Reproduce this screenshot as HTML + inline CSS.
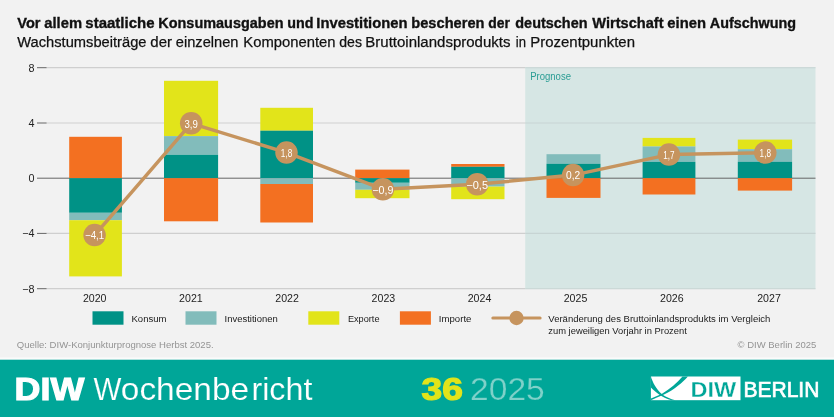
<!DOCTYPE html>
<html lang="de"><head><meta charset="utf-8"><title>DIW Wochenbericht 36 2025</title>
<style>
html,body{margin:0;padding:0;background:#f2f2f2;}
body{width:834px;height:417px;overflow:hidden;font-family:"Liberation Sans",sans-serif;}
svg{display:block;}
text{font-family:"Liberation Sans",sans-serif;}
</style></head><body>
<svg width="834" height="417" viewBox="0 0 834 417">
<rect width="834" height="417" fill="#f2f2f2"/>

<text y="27.7" font-size="15.2" font-weight="bold" fill="#111" stroke="#111" stroke-width="0.35"><tspan x="17.3" textLength="23.2" lengthAdjust="spacingAndGlyphs">Vor</tspan> <tspan x="44.3" textLength="37.7" lengthAdjust="spacingAndGlyphs">allem</tspan> <tspan x="85.3" textLength="69.2" lengthAdjust="spacingAndGlyphs">staatliche</tspan> <tspan x="158.3" textLength="125.2" lengthAdjust="spacingAndGlyphs">Konsumausgaben</tspan> <tspan x="287.3" textLength="26.2" lengthAdjust="spacingAndGlyphs">und</tspan> <tspan x="316.3" textLength="91.2" lengthAdjust="spacingAndGlyphs">Investitionen</tspan> <tspan x="411.3" textLength="73.2" lengthAdjust="spacingAndGlyphs">bescheren</tspan> <tspan x="488.3" textLength="21.7" lengthAdjust="spacingAndGlyphs">der</tspan> <tspan x="515.3" textLength="72.2" lengthAdjust="spacingAndGlyphs">deutschen</tspan> <tspan x="592.3" textLength="71.2" lengthAdjust="spacingAndGlyphs">Wirtschaft</tspan> <tspan x="667.3" textLength="38.7" lengthAdjust="spacingAndGlyphs">einen</tspan> <tspan x="709.8" textLength="86.2" lengthAdjust="spacingAndGlyphs">Aufschwung</tspan></text>
<text y="47.1" font-size="15.2" fill="#111" stroke="#111" stroke-width="0.25"><tspan x="17.3" textLength="129.2" lengthAdjust="spacingAndGlyphs">Wachstumsbeiträge</tspan> <tspan x="150.3" textLength="21.7" lengthAdjust="spacingAndGlyphs">der</tspan> <tspan x="175.8" textLength="62.7" lengthAdjust="spacingAndGlyphs">einzelnen</tspan> <tspan x="243.3" textLength="92.2" lengthAdjust="spacingAndGlyphs">Komponenten</tspan> <tspan x="339.3" textLength="22.7" lengthAdjust="spacingAndGlyphs">des</tspan> <tspan x="365.3" textLength="145.2" lengthAdjust="spacingAndGlyphs">Bruttoinlandsprodukts</tspan> <tspan x="515.8" textLength="10.2" lengthAdjust="spacingAndGlyphs">in</tspan> <tspan x="530.3" textLength="104.7" lengthAdjust="spacingAndGlyphs">Prozentpunkten</tspan></text>
<rect x="525.2" y="67.1" width="290.3" height="221.9" fill="#D6E6E4"/>
<line x1="46.6" x2="525.2" y1="67.7" y2="67.7" stroke="#cfcfcf" stroke-width="1.2"/>
<line x1="525.2" x2="815.5" y1="67.7" y2="67.7" stroke="#c7d4d3" stroke-width="1.1"/>
<line x1="37" x2="46.6" y1="67.7" y2="67.7" stroke="#666" stroke-width="1"/>
<line x1="46.6" x2="525.2" y1="123.0" y2="123.0" stroke="#cfcfcf" stroke-width="1.2"/>
<line x1="525.2" x2="815.5" y1="123.0" y2="123.0" stroke="#c7d4d3" stroke-width="1.1"/>
<line x1="37" x2="46.6" y1="123.0" y2="123.0" stroke="#666" stroke-width="1"/>
<line x1="46.6" x2="525.2" y1="233.4" y2="233.4" stroke="#cfcfcf" stroke-width="1.2"/>
<line x1="525.2" x2="815.5" y1="233.4" y2="233.4" stroke="#c7d4d3" stroke-width="1.1"/>
<line x1="37" x2="46.6" y1="233.4" y2="233.4" stroke="#666" stroke-width="1"/>
<line x1="46.6" x2="525.2" y1="288.7" y2="288.7" stroke="#cfcfcf" stroke-width="1.2"/>
<line x1="525.2" x2="815.5" y1="288.7" y2="288.7" stroke="#c7d4d3" stroke-width="1.1"/>
<line x1="37" x2="46.6" y1="288.7" y2="288.7" stroke="#666" stroke-width="1"/>
<text x="34.6" y="71.6" font-size="10.8" fill="#222" text-anchor="end">8</text>
<text x="34.6" y="126.9" font-size="10.8" fill="#222" text-anchor="end">4</text>
<text x="34.6" y="182.1" font-size="10.8" fill="#222" text-anchor="end">0</text>
<text x="34.6" y="237.3" font-size="10.8" fill="#222" text-anchor="end">−4</text>
<text x="34.6" y="292.6" font-size="10.8" fill="#222" text-anchor="end">−8</text>
<text x="530.2" y="80.3" font-size="10" fill="#2a9d94" textLength="40.8" lengthAdjust="spacingAndGlyphs">Prognose</text>
<line x1="37" x2="815.5" y1="178.2" y2="178.2" stroke="#666" stroke-width="1"/>
<rect x="69.2" y="136.8" width="52.7" height="41.4" fill="#F37021"/>
<rect x="69.2" y="178.2" width="52.7" height="34.6" fill="#009286"/>
<rect x="69.2" y="212.8" width="52.7" height="7.4" fill="#82BCBB"/>
<rect x="69.2" y="220.2" width="52.7" height="56.2" fill="#E2E41A"/>
<rect x="164.0" y="80.8" width="54.1" height="55.3" fill="#E2E41A"/>
<rect x="164.0" y="136.1" width="54.1" height="18.7" fill="#82BCBB"/>
<rect x="164.0" y="154.8" width="54.1" height="23.4" fill="#009286"/>
<rect x="164.0" y="178.2" width="54.1" height="43.1" fill="#F37021"/>
<rect x="260.3" y="107.8" width="52.7" height="22.9" fill="#E2E41A"/>
<rect x="260.3" y="130.7" width="52.7" height="47.5" fill="#009286"/>
<rect x="260.3" y="178.2" width="52.7" height="5.8" fill="#82BCBB"/>
<rect x="260.3" y="184.0" width="52.7" height="38.5" fill="#F37021"/>
<rect x="355.2" y="169.6" width="54.3" height="8.6" fill="#F37021"/>
<rect x="355.2" y="178.2" width="54.3" height="4.6" fill="#009286"/>
<rect x="355.2" y="182.8" width="54.3" height="7.0" fill="#82BCBB"/>
<rect x="355.2" y="189.8" width="54.3" height="8.4" fill="#E2E41A"/>
<rect x="451.2" y="164.0" width="53.3" height="2.8" fill="#F37021"/>
<rect x="451.2" y="166.8" width="53.3" height="11.4" fill="#009286"/>
<rect x="451.2" y="178.2" width="53.3" height="8.4" fill="#82BCBB"/>
<rect x="451.2" y="186.6" width="53.3" height="12.6" fill="#E2E41A"/>
<rect x="546.5" y="154.2" width="54.0" height="9.6" fill="#82BCBB"/>
<rect x="546.5" y="163.8" width="54.0" height="14.4" fill="#009286"/>
<rect x="546.5" y="178.2" width="54.0" height="19.7" fill="#F37021"/>
<rect x="642.6" y="137.9" width="52.8" height="8.6" fill="#E2E41A"/>
<rect x="642.6" y="146.5" width="52.8" height="15.4" fill="#82BCBB"/>
<rect x="642.6" y="161.9" width="52.8" height="16.3" fill="#009286"/>
<rect x="642.6" y="178.2" width="52.8" height="16.3" fill="#F37021"/>
<rect x="737.8" y="139.6" width="54.3" height="9.6" fill="#E2E41A"/>
<rect x="737.8" y="149.2" width="54.3" height="12.6" fill="#82BCBB"/>
<rect x="737.8" y="161.8" width="54.3" height="16.4" fill="#009286"/>
<rect x="737.8" y="178.2" width="54.3" height="12.4" fill="#F37021"/>
<polyline points="94.6,235.1 191.2,123.3 286.5,152.6 382.9,189.2 477.2,184.3 573.1,175.1 668.9,154.6 765.3,152.6" fill="none" stroke="#C6945E" stroke-width="3.5" stroke-linejoin="round"/>
<circle cx="94.6" cy="235.1" r="11.25" fill="#C6945E"/>
<text x="85.0" y="239.4" font-size="10.6" fill="#fff" textLength="19.2" lengthAdjust="spacingAndGlyphs">−4,1</text>
<circle cx="191.2" cy="123.3" r="11.25" fill="#C6945E"/>
<text x="184.5" y="127.6" font-size="10.6" fill="#fff" textLength="13.4" lengthAdjust="spacingAndGlyphs">3,9</text>
<circle cx="286.5" cy="152.6" r="11.25" fill="#C6945E"/>
<text x="280.8" y="156.9" font-size="10.6" fill="#fff" textLength="11.4" lengthAdjust="spacingAndGlyphs">1,8</text>
<circle cx="382.9" cy="189.2" r="11.25" fill="#C6945E"/>
<text x="372.3" y="193.5" font-size="10.6" fill="#fff" textLength="21.1" lengthAdjust="spacingAndGlyphs">−0,9</text>
<circle cx="477.2" cy="184.3" r="11.25" fill="#C6945E"/>
<text x="466.3" y="188.6" font-size="10.6" fill="#fff" textLength="21.7" lengthAdjust="spacingAndGlyphs">−0,5</text>
<circle cx="573.1" cy="175.1" r="11.25" fill="#C6945E"/>
<text x="566.0" y="179.4" font-size="10.6" fill="#fff" textLength="14.2" lengthAdjust="spacingAndGlyphs">0,2</text>
<circle cx="668.9" cy="154.6" r="11.25" fill="#C6945E"/>
<text x="663.2" y="158.9" font-size="10.6" fill="#fff" textLength="11.3" lengthAdjust="spacingAndGlyphs">1,7</text>
<circle cx="765.3" cy="152.6" r="11.25" fill="#C6945E"/>
<text x="759.6" y="156.9" font-size="10.6" fill="#fff" textLength="11.4" lengthAdjust="spacingAndGlyphs">1,8</text>
<text x="94.7" y="302" font-size="10.8" fill="#222" text-anchor="middle" textLength="23.6" lengthAdjust="spacingAndGlyphs">2020</text>
<text x="190.9" y="302" font-size="10.8" fill="#222" text-anchor="middle" textLength="23.6" lengthAdjust="spacingAndGlyphs">2021</text>
<text x="287.1" y="302" font-size="10.8" fill="#222" text-anchor="middle" textLength="23.6" lengthAdjust="spacingAndGlyphs">2022</text>
<text x="383.4" y="302" font-size="10.8" fill="#222" text-anchor="middle" textLength="23.6" lengthAdjust="spacingAndGlyphs">2023</text>
<text x="479.5" y="302" font-size="10.8" fill="#222" text-anchor="middle" textLength="23.6" lengthAdjust="spacingAndGlyphs">2024</text>
<text x="575.5" y="302" font-size="10.8" fill="#222" text-anchor="middle" textLength="23.6" lengthAdjust="spacingAndGlyphs">2025</text>
<text x="671.8" y="302" font-size="10.8" fill="#222" text-anchor="middle" textLength="23.6" lengthAdjust="spacingAndGlyphs">2026</text>
<text x="769.0" y="302" font-size="10.8" fill="#222" text-anchor="middle" textLength="23.6" lengthAdjust="spacingAndGlyphs">2027</text>
<rect x="92.5" y="311.3" width="31" height="13.4" fill="#009286"/>
<text x="131.5" y="322.4" font-size="9.7" fill="#1a1a1a" textLength="35" lengthAdjust="spacingAndGlyphs">Konsum</text>
<rect x="185.5" y="311.3" width="31" height="13.4" fill="#82BCBB"/>
<text x="224.6" y="322.4" font-size="9.7" fill="#1a1a1a" textLength="53.2" lengthAdjust="spacingAndGlyphs">Investitionen</text>
<rect x="308.3" y="311.3" width="31" height="13.4" fill="#E2E41A"/>
<text x="347.9" y="322.4" font-size="9.7" fill="#1a1a1a" textLength="31.6" lengthAdjust="spacingAndGlyphs">Exporte</text>
<rect x="399.9" y="311.3" width="31" height="13.4" fill="#F37021"/>
<text x="438.8" y="322.4" font-size="9.7" fill="#1a1a1a" textLength="32.6" lengthAdjust="spacingAndGlyphs">Importe</text>
<line x1="492.8" x2="540.1" y1="318" y2="318" stroke="#C6945E" stroke-width="3" stroke-linecap="round"/>
<circle cx="516.5" cy="318" r="7.2" fill="#C6945E"/>
<text x="548.3" y="322.4" font-size="9.7" fill="#1a1a1a" textLength="222.1" lengthAdjust="spacingAndGlyphs">Veränderung des Bruttoinlandsprodukts im Vergleich</text>
<text x="548.3" y="333.7" font-size="9.7" fill="#1a1a1a" textLength="138.5" lengthAdjust="spacingAndGlyphs">zum jeweiligen Vorjahr in Prozent</text>
<text x="16.8" y="348.1" font-size="9.8" fill="#949494" textLength="196.8" lengthAdjust="spacingAndGlyphs">Quelle: DIW-Konjunkturprognose Herbst 2025.</text>
<text x="737.6" y="348" font-size="9.8" fill="#949494" textLength="78.7" lengthAdjust="spacingAndGlyphs">© DIW Berlin 2025</text>
<rect x="0" y="357.5" width="834" height="2.5" fill="#fbfbfb"/>
<rect x="0" y="359.7" width="834" height="57.3" fill="#00A698"/>
<text x="14.6" y="399.8" font-size="31.4" font-weight="bold" fill="#fff" stroke="#fff" stroke-width="1.1" textLength="69.8" lengthAdjust="spacingAndGlyphs">DIW</text>
<text y="399.8" font-size="31.4" fill="#fff" stroke="#00A698" stroke-width="0.15"><tspan x="93.4" textLength="27.9" lengthAdjust="spacingAndGlyphs">W</tspan><tspan x="120.8" textLength="128.3" lengthAdjust="spacingAndGlyphs">ochenbe</tspan><tspan x="251.4" textLength="61" lengthAdjust="spacingAndGlyphs">richt</tspan></text>
<text x="421.6" y="399.8" font-size="31.4" font-weight="bold" fill="#E2E41A" stroke="#E2E41A" stroke-width="1.2" textLength="41.3" lengthAdjust="spacingAndGlyphs">36</text>
<text x="470.1" y="399.8" font-size="31.4" fill="#7FD1C9" stroke="#00A698" stroke-width="0.25" textLength="74.6" lengthAdjust="spacingAndGlyphs">2025</text>
<rect x="650.9" y="376.5" width="89.6" height="23.7" fill="#fff"/>
<path d="M687.9 376.5 C683 382 674 390 664.5 394.2 C659 396.7 654.5 398.4 650.9 400.2 L650.9 398.6 C655 397 659 395.2 662.4 393.5 C670 389 677 383 682.5 376.5 Z" fill="#00A698"/>
<path d="M650.9 376.5 C652.5 382 656 389 662 394.2 C666 397 670.5 399 675.3 400.2 L671.7 400.2 C667 398.8 663 397 659.8 394.9 C656 392 653 389.5 650.9 387.4 Z" fill="#00A698"/>
<text x="690.5" y="396.5" font-size="22.4" font-weight="bold" fill="#00A698" stroke="#fff" stroke-width="0.3" textLength="45.8" lengthAdjust="spacingAndGlyphs">DIW</text>
<text x="743.4" y="396.5" font-size="22.4" fill="#fff" stroke="#fff" stroke-width="0.7" textLength="76" lengthAdjust="spacingAndGlyphs">BERLIN</text>
</svg></body></html>
